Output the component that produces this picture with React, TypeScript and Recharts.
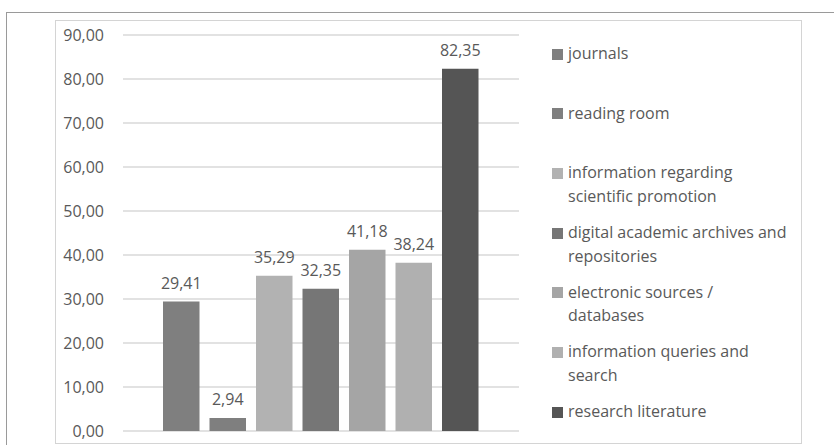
import { Bar, BarChart, CartesianGrid, LabelList, XAxis, YAxis } from "recharts";

const categories = ["services"];
const seriesNames = [
  "journals",
  "reading room",
  "information regarding\nscientific promotion",
  "digital academic archives and\nrepositories",
  "electronic sources /\ndatabases",
  "information queries and\nsearch",
  "research literature",
];
const seriesValues = [29.41, 2.94, 35.29, 32.35, 41.18, 38.24, 82.35];
const seriesColors = ["#7f7f7f", "#7f7f7f", "#b2b2b2", "#767676", "#a5a5a5", "#b0b0b0", "#555555"];
const yTicks = [0, 10, 20, 30, 40, 50, 60, 70, 80, 90];

const FONT = "'Open Sans', sans-serif";
const TEXT = "#595959";

const data = categories.map((category) => {
  const row: Record<string, string | number> = { category };
  seriesValues.forEach((v, i) => {
    row[`s${i}`] = v;
  });
  return row;
});

const fmt = (v: number) => v.toFixed(2).replace(".", ",");

// legend drawn beside the plot, same order as the series
function LegendList() {
  return (
    <div style={{ position: "absolute", left: 552, top: 42, width: 260, fontFamily: FONT, fontSize: 16, color: TEXT }}>
      {seriesNames.map((name, i) => (
        <div key={name} style={{ display: "flex", height: 59.7, alignItems: "flex-start" }}>
          <span
            style={{
              width: 11,
              height: 11,
              background: seriesColors[i],
              marginTop: 6.5,
              marginRight: 5,
              flex: "none",
            }}
          />
          <span style={{ whiteSpace: "pre-line", lineHeight: "23.5px" }}>{name}</span>
        </div>
      ))}
    </div>
  );
}

export default function App() {
  return (
    <div style={{ position: "absolute", left: 0, top: 0, width: 834, height: 445, background: "#fff", overflow: "hidden" }}>
      {/* outer frame */}
      <div
        style={{
          position: "absolute",
          left: 6,
          top: 12,
          width: 834,
          height: 445,
          borderLeft: "1.5px solid #9a9a9a",
          borderTop: "1.5px solid #9a9a9a",
        }}
      />
      {/* inner frame */}
      <div
        style={{
          position: "absolute",
          left: 55,
          top: 20,
          width: 747,
          height: 424,
          border: "1px solid #d4d4d4",
          boxSizing: "border-box",
        }}
      />
      <div style={{ position: "absolute", left: 0, top: 0 }}>
        <BarChart
          width={834}
          height={445}
          data={data}
          margin={{ top: 35, right: 315, bottom: 14, left: 0 }}
          barSize={36.5}
          barGap={10}
        >
          <CartesianGrid horizontal vertical={false} stroke="#d9d9d9" strokeWidth={1.5} />
          <XAxis dataKey="category" hide />
          <YAxis
            width={123}
            domain={[0, 90]}
            ticks={yTicks}
            axisLine={false}
            tickLine={false}
            tickSize={0}
            tickMargin={19}
            tickFormatter={fmt}
            tick={{ fill: TEXT, fontSize: 16, fontFamily: FONT }}
          />
          {seriesValues.map((_, i) => (
            <Bar
              key={i}
              dataKey={`s${i}`}
              name={seriesNames[i]}
              fill={seriesColors[i]}
              isAnimationActive={false}
            >
              <LabelList
                dataKey={`s${i}`}
                position="top"
                offset={13}
                formatter={(v: any) => fmt(Number(v))}
                style={{ fill: TEXT, fontSize: 16, fontFamily: FONT }}
              />
            </Bar>
          ))}
        </BarChart>
      </div>
      <LegendList />
    </div>
  );
}
